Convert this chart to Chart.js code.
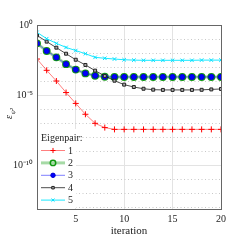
<!DOCTYPE html>
<html>
<head>
<meta charset="utf-8">
<script src="https://cdn.jsdelivr.net/npm/chart.js@4/dist/chart.umd.min.js"></script>
<style>
  body { margin: 0; background: #fff; }
  canvas { display: block; }
</style>
</head>
<body>
<canvas id="conv" width="243" height="243"></canvas>
<script>
const iterations = [1,2,3,4,5,6,7,8,9,10,11,12,13,14,15,16,17,18,19,20];
const eig1 = [3.7e-3,5.8e-4,1.0e-4,1.5e-5,2.5e-6,4.2e-7,9.5e-8,4.7e-8,3.5e-8,3.5e-8,3.5e-8,3.5e-8,3.5e-8,3.5e-8,3.5e-8,3.5e-8,3.5e-8,3.5e-8,3.5e-8,3.5e-8];
const eig2 = [4.9e-2,1.4e-2,4.9e-3,1.6e-3,6.5e-4,3.5e-4,2.4e-4,2.0e-4,1.95e-4,1.95e-4,1.95e-4,1.95e-4,1.95e-4,1.95e-4,1.95e-4,1.95e-4,1.95e-4,1.95e-4,1.95e-4,1.95e-4];
const eig3 = [4.9e-2,1.4e-2,4.9e-3,1.6e-3,6.5e-4,3.5e-4,2.4e-4,2.0e-4,1.95e-4,1.95e-4,1.95e-4,1.95e-4,1.95e-4,1.95e-4,1.95e-4,1.95e-4,1.95e-4,1.95e-4,1.95e-4,1.95e-4];
const eig4 = [1.8e-1,6.5e-2,2.4e-2,8.9e-3,3.3e-3,1.4e-3,5.5e-4,2.3e-4,1.05e-4,5.5e-5,3.7e-5,2.8e-5,2.4e-5,2.3e-5,2.3e-5,2.3e-5,2.3e-5,2.35e-5,2.5e-5,2.7e-5];
const eig5 = [3.0e-1,1.05e-1,4.9e-2,2.5e-2,1.5e-2,8.9e-3,4.9e-3,4.2e-3,3.7e-3,3.3e-3,3.1e-3,3.0e-3,3.0e-3,3.0e-3,3.0e-3,3.0e-3,3.0e-3,3.1e-3,3.1e-3,3.1e-3];
const seriesNames = ["1","2","3","4","5"];
const xTicks = [5,10,15,20];
const yMajorExp = [-10,-5,0];
const yMinorExp = [-13,-12,-11,-9,-8,-7,-6,-4,-3,-2,-1];

const FONT = '"Liberation Serif", serif';
const sup = { "0":"⁰","1":"¹","5":"⁵","-":"⁻" };
function powLabel(e){
  return "10" + String(e).split("").map(c => sup[c]).join("");
}
function pts(arr){
  return arr.map((v, i) => ({ x: iterations[i], y: v }));
}

let datasets = [
  { label: seriesNames[0], data: pts(eig1), borderColor: "rgba(255,0,0,0.5)", borderWidth: 1,
    pointStyle: "cross", pointRadius: 3, pointBorderColor: "#ff0000", pointBackgroundColor: "#ff0000", pointBorderWidth: 1, order: 3 },
  { label: seriesNames[1], data: pts(eig2), borderColor: "rgba(0,150,0,0.35)", borderWidth: 3,
    pointStyle: "circle", pointRadius: 3.2, pointBorderColor: "#119911", pointBackgroundColor: "rgba(255,255,255,0)", pointBorderWidth: 1.5, order: 5 },
  { label: seriesNames[2], data: pts(eig3), borderColor: "rgba(0,0,255,0.5)", borderWidth: 1,
    pointStyle: "circle", pointRadius: 2.6, pointBorderColor: "#0000cc", pointBackgroundColor: "#0000ff", pointBorderWidth: 1, order: 4 },
  { label: seriesNames[3], data: pts(eig4), borderColor: "rgba(0,0,0,0.7)", borderWidth: 1,
    pointStyle: "rect", pointRadius: 2.1, pointBorderColor: "#222", pointBackgroundColor: "#aaa", pointBorderWidth: 1, order: 2 },
  { label: seriesNames[4], data: pts(eig5), borderColor: "rgba(0,230,255,0.9)", borderWidth: 1,
    pointStyle: "crossRot", pointRadius: 2.5, pointBorderColor: "#00e0ff", pointBackgroundColor: "#00e0ff", pointBorderWidth: 1, order: 1 }
];
datasets.forEach(d => { d.fill = false; d.tension = 0; d.pointHoverRadius = d.pointRadius; });

// frame, y title and inside legend
const extras = {
  id: "extras",
  afterDraw(chart){
    const ctx = chart.ctx;
    const a = chart.chartArea;
    ctx.save();
    // legend background
    ctx.fillStyle = "#fff";
    ctx.fillRect(a.left + 1, 129, 38, a.bottom - 130);
    // frame
    ctx.strokeStyle = "#666";
    ctx.lineWidth = 1;
    ctx.strokeRect(Math.round(a.left) + 0.5, Math.round(a.top) + 0.5, Math.round(a.right - a.left), Math.round(a.bottom - a.top));
    // legend
    ctx.fillStyle = "#222";
    ctx.font = "10px " + FONT;
    ctx.textBaseline = "middle";
    ctx.textAlign = "left";
    ctx.fillText("Eigenpair:", 41, 138);
    chart.data.datasets.forEach((ds, i) => {
      const y = 150.5 + i * 12.4;
      ctx.strokeStyle = ds.borderColor;
      ctx.lineWidth = ds.borderWidth;
      ctx.beginPath();
      ctx.moveTo(41, y);
      ctx.lineTo(65, y);
      ctx.stroke();
      ctx.strokeStyle = ds.pointBorderColor;
      ctx.fillStyle = ds.pointBackgroundColor;
      ctx.lineWidth = ds.pointBorderWidth;
      Chart.helpers.drawPoint(ctx, { pointStyle: ds.pointStyle, radius: ds.pointRadius * 0.85, borderWidth: ds.pointBorderWidth, rotation: 0 }, 53, y);
      ctx.fillStyle = "#222";
      ctx.fillText(ds.label, 68, y + 0.5);
    });
    // y title  eps_{psi^2}
    ctx.translate(9, 113);
    ctx.rotate(-Math.PI / 2);
    ctx.fillStyle = "#222";
    ctx.textBaseline = "alphabetic";
    ctx.font = "italic 10px " + FONT;
    ctx.fillText("ε", -6, 3);
    ctx.font = "italic 7px " + FONT;
    ctx.fillText("ψ²", -1.5, 5.5);
    ctx.restore();
  }
};

new Chart(document.getElementById("conv"), {
  type: "line",
  data: { datasets: datasets },
  options: {
    responsive: false,
    animation: false,
    devicePixelRatio: 1,
    layout: { padding: { left: 0, top: 25, right: 22, bottom: 0 } },
    plugins: { legend: { display: false }, tooltip: { enabled: false } },
    scales: {
      x: {
        type: "linear",
        min: 1,
        max: 20,
        afterBuildTicks: s => { s.ticks = xTicks.map(v => ({ value: v })); },
        afterFit: s => { s.height = 34; },
        grid: { color: "#e3e3e3", drawTicks: false },
        border: { display: false },
        ticks: { color: "#222", font: { family: FONT, size: 10 }, padding: 4, maxRotation: 0 },
        title: { display: true, text: "iteration", color: "#222", font: { family: FONT, size: 11 }, padding: { top: 0, bottom: 5 } }
      },
      y: {
        type: "logarithmic",
        min: 7.2e-14,
        max: 1,
        afterBuildTicks: s => { s.ticks = yMajorExp.map(e => ({ value: Math.pow(10, e) })); },
        afterFit: s => { s.width = 37; },
        grid: { color: "#e3e3e3", drawTicks: false },
        border: { display: false },
        ticks: {
          color: "#222",
          font: { family: FONT, size: 10 },
          padding: 4,
          callback: v => powLabel(Math.round(Math.log10(v)))
        }
      },
      y2: {
        type: "logarithmic",
        position: "right",
        min: 7.2e-14,
        max: 1,
        afterBuildTicks: s => { s.ticks = yMinorExp.map(e => ({ value: Math.pow(10, e) })); },
        afterFit: s => { s.width = 0; },
        grid: { color: "#c8c8c8", drawTicks: false },
        border: { display: false, dash: [1, 2.5] },
        ticks: { display: false }
      }
    }
  },
  plugins: [extras]
});
</script>
</body>
</html>
